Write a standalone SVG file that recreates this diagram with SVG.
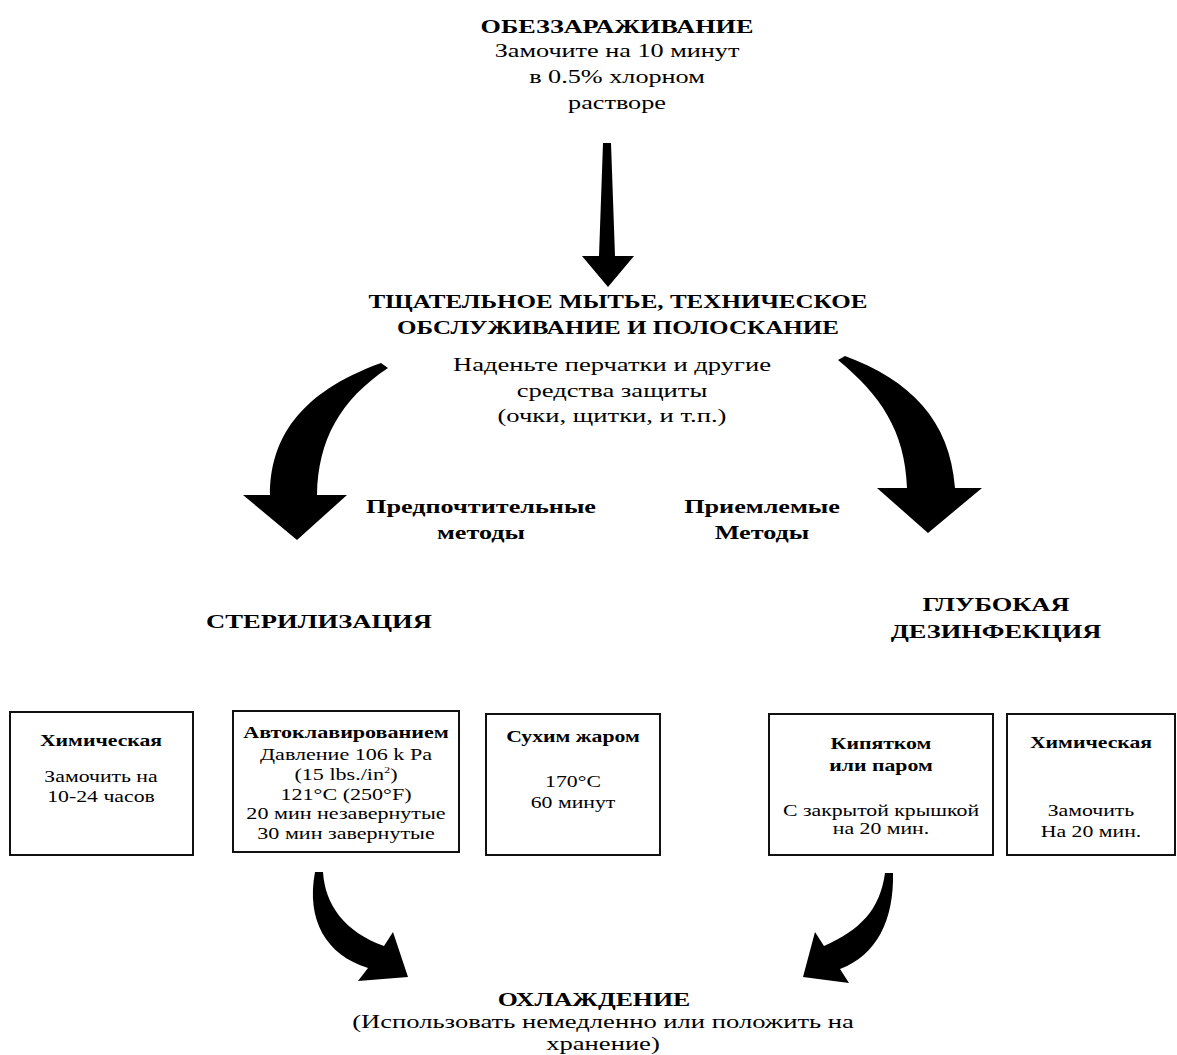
<svg xmlns="http://www.w3.org/2000/svg" width="1177" height="1055" viewBox="0 0 1177 1055">
<style>
text{font-family:"Liberation Serif","Times New Roman",serif;fill:#000;text-anchor:middle}
.b{font-weight:bold;font-size:19px}
.r{font-size:19px}
.bb{font-weight:bold;font-size:16px}
.br{font-size:16px}
.box{fill:#fff;stroke:#111;stroke-width:2}
.arr{fill:#000;stroke:none}
</style>
<rect width="1177" height="1055" fill="#fff"/>
<g id="connectors">
<path class="arr" d="M603,143 L611,143 L615,256 L634,256 L608,287 L582,256 L599,256 Z"/>
<path class="arr" d="M381,363 L388,368 C340,400 318,440 317,495 L347,495 L297,540 L243,495 L270,495 C270,440 298,393 381,363 Z"/>
<path class="arr" d="M838,360 L845,356 C910,380 950,420 955,488 L982,488 L928,533 L877,488 L907,488 C905,430 880,395 838,360 Z"/>
<path class="arr" d="M315,872 L323,872 C325,905 345,932 384,946 L393,932 L408,977 L358,981 L368,968 C326,955 306,920 315,872 Z"/>
<path class="arr" d="M885,873 L893,873 C894,920 877,955 840,969 L849,983 L803,977 L815,932 L824,946 C860,930 880,910 885,873 Z"/>
</g>
<g id="n_decon" transform="translate(617 0) scale(1.38 1)">
<text class="b" x="0" y="33">ОБЕЗЗАРАЖИВАНИЕ</text>
<text class="r" x="0" y="57">Замочите на 10 минут</text>
<text class="r" x="0" y="83">в 0.5% хлорном</text>
<text class="r" x="0" y="109">растворе</text>
</g>
<g id="n_wash">
<g transform="translate(618 0) scale(1.32 1)">
<text class="b" x="0" y="308">ТЩАТЕЛЬНОЕ МЫТЬЕ, ТЕХНИЧЕСКОЕ</text>
<text class="b" x="0" y="334">ОБСЛУЖИВАНИЕ И ПОЛОСКАНИЕ</text>
</g>
<g transform="translate(612 0) scale(1.40 1)">
<text class="r" x="0" y="371">Наденьте перчатки и другие</text>
<text class="r" x="0" y="397">средства защиты</text>
<text class="r" x="0" y="422">(очки, щитки, и т.п.)</text>
</g>
</g>
<g id="n_pref" transform="translate(481 0) scale(1.38 1)">
<text class="b" x="0" y="513">Предпочтительные</text>
<text class="b" x="0" y="539">методы</text>
</g>
<g id="n_acc" transform="translate(762 0) scale(1.38 1)">
<text class="b" x="0" y="513">Приемлемые</text>
<text class="b" x="0" y="539">Методы</text>
</g>
<g id="n_steril" transform="translate(319 0) scale(1.40 1)">
<text class="b" x="0" y="628">СТЕРИЛИЗАЦИЯ</text>
</g>
<g id="n_hld" transform="translate(996 0) scale(1.39 1)">
<text class="b" x="0" y="611">ГЛУБОКАЯ</text>
<text class="b" x="0" y="638">ДЕЗИНФЕКЦИЯ</text>
</g>
<g id="n_chem1">
<rect class="box" x="10" y="712" width="183" height="143"/>
<g transform="translate(101 0) scale(1.36 1)">
<text class="bb" x="0" y="746">Химическая</text>
<text class="br" x="0" y="782">Замочить на</text>
<text class="br" x="0" y="802">10-24 часов</text>
</g>
</g>
<g id="n_auto">
<rect class="box" x="233" y="711" width="226" height="141"/>
<g transform="translate(346 0) scale(1.38 1)">
<text class="bb" x="0" y="738">Автоклавированием</text>
<text class="br" x="0" y="760">Давление 106 k Pa</text>
<text class="br" x="0" y="780">(15 lbs./in<tspan font-size="9" dy="-7">2</tspan><tspan dy="7">)</tspan></text>
<text class="br" x="0" y="800">121°C (250°F)</text>
<text class="br" x="0" y="819">20 мин незавернутые</text>
<text class="br" x="0" y="839">30 мин завернутые</text>
</g>
</g>
<g id="n_dry">
<rect class="box" x="486" y="714" width="174" height="141"/>
<g transform="translate(573 0) scale(1.36 1)">
<text class="bb" x="0" y="742">Сухим жаром</text>
<text class="br" x="0" y="787">170°C</text>
<text class="br" x="0" y="808">60 минут</text>
</g>
</g>
<g id="n_boil">
<rect class="box" x="769" y="714" width="224" height="141"/>
<g transform="translate(881 0) scale(1.36 1)">
<text class="bb" x="0" y="749">Кипятком</text>
<text class="bb" x="0" y="771">или паром</text>
<text class="br" x="0" y="816">С закрытой крышкой</text>
<text class="br" x="0" y="834">на 20 мин.</text>
</g>
</g>
<g id="n_chem2">
<rect class="box" x="1007" y="714" width="168" height="141"/>
<g transform="translate(1091 0) scale(1.36 1)">
<text class="bb" x="0" y="748">Химическая</text>
<text class="br" x="0" y="816">Замочить</text>
<text class="br" x="0" y="837">На 20 мин.</text>
</g>
</g>
<g id="n_cool">
<g transform="translate(594 0) scale(1.36 1)">
<text class="b" x="0" y="1006">ОХЛАЖДЕНИЕ</text>
</g>
<g transform="translate(603 0) scale(1.40 1)">
<text class="r" x="0" y="1028">(Использовать немедленно или положить на</text>
<text class="r" x="0" y="1050">хранение)</text>
</g>
</g>
</svg>
